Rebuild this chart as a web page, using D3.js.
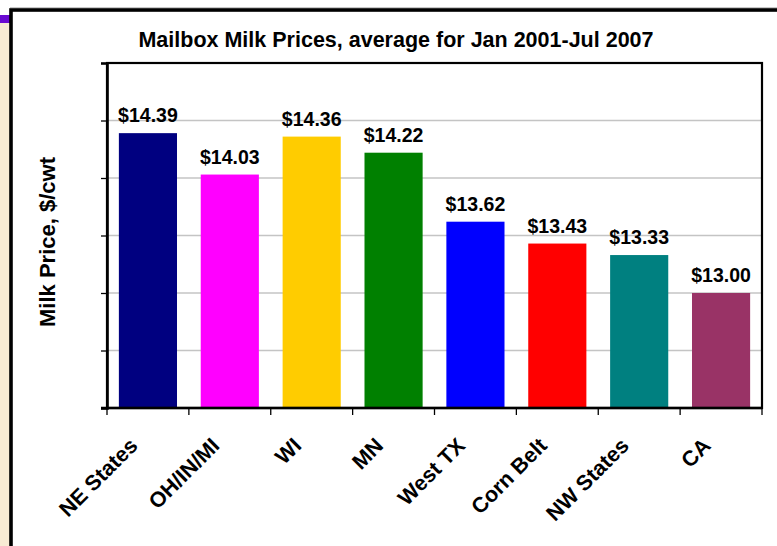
<!DOCTYPE html>
<html>
<head>
<meta charset="utf-8">
<script src="https://cdn.jsdelivr.net/npm/d3@7"></script>
<style>
  html, body { margin: 0; padding: 0; background: #ffffff; }
  svg { display: block; }
  text { font-family: "Liberation Sans", Arial, sans-serif; font-weight: bold; fill: #000; }
</style>
</head>
<body>
<svg id="chart" width="777" height="546"></svg>
<script>
// Mailbox milk prices by region, Jan 2001 - Jul 2007 average ($/cwt)
const regions = ["NE States", "OH/IN/MI", "WI", "MN", "West TX", "Corn Belt", "NW States", "CA"];
const prices = [14.39, 14.03, 14.36, 14.22, 13.62, 13.43, 13.33, 13.00];
const barColors = ["#000080", "#ff00ff", "#ffcc00", "#008000", "#0000ff", "#ff0000", "#008080", "#993366"];
const priceTicks = [12, 12.5, 13, 13.5, 14, 14.5, 15];
const titleText = "Mailbox Milk Prices, average for Jan 2001-Jul 2007";
const yAxisTitle = "Milk Price, $/cwt";

const svg = d3.select("#chart");

// slide backdrop: beige side strip, purple accent, white panel with heavy border
svg.append("rect").attr("x", 0).attr("y", 22).attr("width", 12).attr("height", 524).attr("fill", "#f8ebd4");
svg.append("rect").attr("x", 0).attr("y", 15).attr("width", 10).attr("height", 8).attr("fill", "#6a0ad2");
svg.append("line").attr("x1", 10).attr("x2", 777).attr("y1", 7.5).attr("y2", 7.5)
  .attr("stroke", "#c8c8c8").attr("stroke-width", 1);
svg.append("rect").attr("x", 11).attr("y", 10).attr("width", 800).attr("height", 600)
  .attr("fill", "#ffffff").attr("stroke", "#000").attr("stroke-width", 3.6);

const plot = { left: 107, right: 762, top: 63, bottom: 408 };

const x = d3.scaleBand()
  .domain(regions)
  .range([plot.left, plot.right])
  .paddingInner(0.29)
  .paddingOuter(0.145);

const y = d3.scaleLinear()
  .domain([12, 15])
  .range([plot.bottom, plot.top]);

// horizontal gridlines
svg.append("g")
  .selectAll("line")
  .data(priceTicks.slice(1, -1))
  .join("line")
  .attr("x1", plot.left).attr("x2", plot.right)
  .attr("y1", d => y(d)).attr("y2", d => y(d))
  .attr("stroke", "#c4c4c4").attr("stroke-width", 1.3);

// bars
svg.append("g")
  .selectAll("rect")
  .data(prices)
  .join("rect")
  .attr("x", (d, i) => x(regions[i]))
  .attr("width", x.bandwidth())
  .attr("y", d => y(d))
  .attr("height", d => y(12) - y(d))
  .attr("fill", (d, i) => barColors[i]);

// value labels
svg.append("g")
  .selectAll("text")
  .data(prices)
  .join("text")
  .attr("x", (d, i) => x(regions[i]) + x.bandwidth() / 2)
  .attr("y", d => y(d) - 11)
  .attr("text-anchor", "middle")
  .attr("font-size", 19.5)
  .text(d => "$" + d.toFixed(2));

// plot frame
svg.append("rect")
  .attr("x", plot.left).attr("y", plot.top)
  .attr("width", plot.right - plot.left).attr("height", plot.bottom - plot.top)
  .attr("fill", "none").attr("stroke", "#000").attr("stroke-width", 2.2);

// y axis: tick marks only
const yAxis = svg.append("g")
  .attr("transform", `translate(${plot.left},0)`)
  .call(d3.axisLeft(y).tickValues(priceTicks).tickSize(6).tickFormat(""));
yAxis.select(".domain").attr("stroke", "#000").attr("stroke-width", 2.6);
yAxis.selectAll(".tick line").attr("stroke", "#000").attr("stroke-width", 1.3);

// x axis: ticks at category boundaries
const boundaries = regions.map(r => x(r) - x.step() * x.paddingInner() / 2).concat([plot.right]);
const xAxis = svg.append("g");
xAxis.append("line")
  .attr("x1", plot.left - 6).attr("x2", plot.right)
  .attr("y1", plot.bottom).attr("y2", plot.bottom)
  .attr("stroke", "#000").attr("stroke-width", 2.6);
xAxis.selectAll("line.tick")
  .data(boundaries)
  .join("line")
  .attr("class", "tick")
  .attr("x1", d => d).attr("x2", d => d)
  .attr("y1", plot.bottom).attr("y2", plot.bottom + 7)
  .attr("stroke", "#000").attr("stroke-width", 1.3);

// rotated category labels
svg.append("g")
  .selectAll("text")
  .data(regions)
  .join("text")
  .attr("transform", d => `translate(${x(d) + x.bandwidth() / 2 - 9},${plot.bottom + 39}) rotate(-45)`)
  .attr("text-anchor", "end")
  .attr("font-size", 21.5)
  .text(d => d);

// title
svg.append("text")
  .attr("x", 396).attr("y", 47)
  .attr("text-anchor", "middle")
  .attr("font-size", 21.5)
  .text(titleText);

// y axis title
svg.append("text")
  .attr("transform", "translate(55,242) rotate(-90)")
  .attr("text-anchor", "middle")
  .attr("font-size", 22)
  .text(yAxisTitle);
</script>
</body>
</html>
